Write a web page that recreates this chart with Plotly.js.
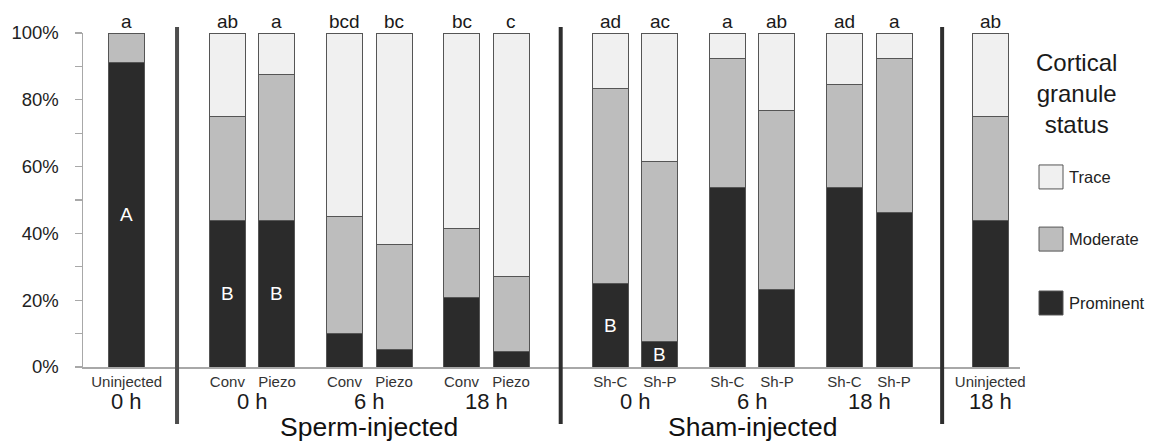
<!DOCTYPE html>
<html><head><meta charset="utf-8">
<script src="https://cdn.plot.ly/plotly-3.0.1.min.js"></script>
<style>html,body{margin:0;padding:0;background:#fff}#chart{width:1155px;height:442px}</style>
</head><body><div id="chart"></div>
<script>
// ---- data ----
const categories = ["Uninjected","Conv","Piezo","Conv","Piezo","Conv","Piezo","Sh-C","Sh-P","Sh-C","Sh-P","Sh-C","Sh-P","Uninjected"];
const timeLabels = ["0 h","0 h","6 h","18 h","0 h","6 h","18 h","18 h"];
const groupSizes = [1,2,2,2,2,2,2,1];
const sectionNames = ["Sperm-injected","Sham-injected"];
const prominent = [91.3, 43.75, 43.75, 10.0, 5.2, 20.8, 4.5, 25.0, 7.7, 53.8, 23.1, 53.8, 46.2, 43.75];
const moderate  = [8.7, 31.25, 43.75, 35.0, 31.6, 20.8, 22.6, 58.3, 53.8, 38.5, 53.8, 30.8, 46.1, 31.25];
const traceV    = [0.0, 25.0, 12.5, 55.0, 63.2, 58.4, 72.9, 16.7, 38.5, 7.7, 23.1, 15.4, 7.7, 25.0];
const topLetters = ["a","ab","a","bcd","bc","bc","c","ad","ac","a","ab","ad","a","ab"];
const insideLetters = ["A","B","B","","","","","B","B","","","","",""];
const seriesNames = ["Prominent","Moderate","Trace"];
const yTickVals = [0, 20, 40, 60, 80, 100];
const yTickText = ["0%", "20%", "40%", "60%", "80%", "100%"];

// ---- layout constants ----
const colors = {Prominent:"#2b2b2b", Moderate:"#bdbdbd", Trace:"#f0f0f0"};
const pairStep = 1, groupGap = 1.36;
const sectionGaps = [2.03, 2.0, 1.94];
const separatorAfterGroup = [0, 3, 6];
const BAR_W = 0.726;

const xs = [];
const groupCenters = [];
const sepX = [];
let pos = 0, sepCount = 0;
groupSizes.forEach((n, g) => {
  if (g > 0) {
    if (separatorAfterGroup.includes(g - 1)) {
      const gap = sectionGaps[sepCount++];
      sepX.push(pos + gap / 2);
      pos += gap;
    } else pos += groupGap;
  }
  const start = pos;
  for (let k = 0; k < n; k++) {
    if (k > 0) pos += pairStep;
    xs.push(pos);
  }
  groupCenters.push((start + pos) / 2);
});
const sectionCenters = [(xs[1] + xs[6]) / 2, (xs[7] + xs[12]) / 2];

const valuesBySeries = {Prominent: prominent, Moderate: moderate, Trace: traceV};
const traces = seriesNames.map(name => ({
  type: "bar", name: name, x: xs, y: valuesBySeries[name], width: BAR_W,
  marker: {color: colors[name], line: {color: "#555", width: 1}},
  hoverinfo: "name+y", showlegend: false
}));

const FONT = "Liberation Sans, Arial, sans-serif";
const annotations = [];
topLetters.forEach((t, i) => annotations.push({
  x: xs[i], y: 100, xref: "x", yref: "y", text: t, showarrow: false,
  yanchor: "middle", yshift: 12, font: {family: FONT, size: 19, color: "#1a1a1a"}
}));
insideLetters.forEach((t, i) => { if (t) annotations.push({
  x: xs[i], y: prominent[i] / 2, xref: "x", yref: "y", text: t, showarrow: false,
  yanchor: "middle", font: {family: FONT, size: 19, color: "#ffffff"}
}); });
timeLabels.forEach((t, g) => annotations.push({
  x: groupCenters[g], y: -0.1027, xref: "x", yref: "paper", text: t, showarrow: false,
  yanchor: "middle", borderpad: 0, font: {family: FONT, size: 22, color: "#1a1a1a"}
}));
sectionNames.forEach((t, s) => annotations.push({
  x: sectionCenters[s], y: -0.1796, xref: "x", yref: "paper", text: t, showarrow: false,
  yanchor: "middle", borderpad: 0, font: {family: FONT, size: 26.5, color: "#111"}
}));
annotations.push({
  x: 1.0608, y: 0.8195, xref: "paper", yref: "paper", text: "Cortical<br>granule<br>status",
  showarrow: false, xanchor: "center", yanchor: "middle", align: "center",
  font: {family: FONT, size: 24, color: "#1a1a1a"}
});
const legendY = {Trace: 0.569, Moderate: 0.383, Prominent: 0.1916};
const shapes = [];
["Trace","Moderate","Prominent"].forEach(name => {
  annotations.push({x: 1.0505, y: legendY[name], xref: "paper", yref: "paper", text: name,
    showarrow: false, xanchor: "left", yanchor: "middle", font: {family: FONT, size: 16.5, color: "#222"}});
  shapes.push({type: "rect", xref: "paper", yref: "paper", x0: 1.0203, x1: 1.0459,
    y0: legendY[name] - 0.0359, y1: legendY[name] + 0.0359,
    fillcolor: colors[name], line: {color: "#555", width: 1}});
});
sepX.forEach((x, i) => shapes.push({
  type: "line", xref: "x", yref: "paper", x0: x, x1: x, y0: -0.171, y1: 1.018,
  line: {color: i === 0 ? "#4d4d4d" : "#2e2e2e", width: 4}
}));

const layout = {
  width: 1155, height: 442,
  margin: {l: 83, r: 135, t: 33, b: 75},
  paper_bgcolor: "#fff", plot_bgcolor: "#fff",
  barmode: "stack", showlegend: false,
  font: {family: FONT},
  xaxis: {
    range: [-0.881, 18.01], showgrid: false, zeroline: false,
    showline: true, linecolor: "#a8a8a8", linewidth: 1.5,
    ticks: "", tickvals: xs, ticktext: categories,
    tickfont: {family: FONT, size: 15, color: "#333"}, ticklabelstandoff: 0
  },
  yaxis: {
    range: [0, 100], showgrid: false, zeroline: false,
    showline: true, linecolor: "#a8a8a8", linewidth: 1.5,
    tickvals: yTickVals, ticktext: yTickText,
    ticks: "outside", ticklen: 7, tickcolor: "#a8a8a8", tickwidth: 1.2,
    minor: {tickvals: [10,30,50,70,90], ticks: "outside", ticklen: 7, tickcolor: "#a8a8a8", tickwidth: 1.2},
    tickfont: {family: FONT, size: 18.5, color: "#222"}, ticklabelstandoff: 12
  },
  annotations: annotations,
  shapes: shapes
};
Plotly.newPlot("chart", traces, layout, {displayModeBar: false, staticPlot: true});
</script>
</body></html>
